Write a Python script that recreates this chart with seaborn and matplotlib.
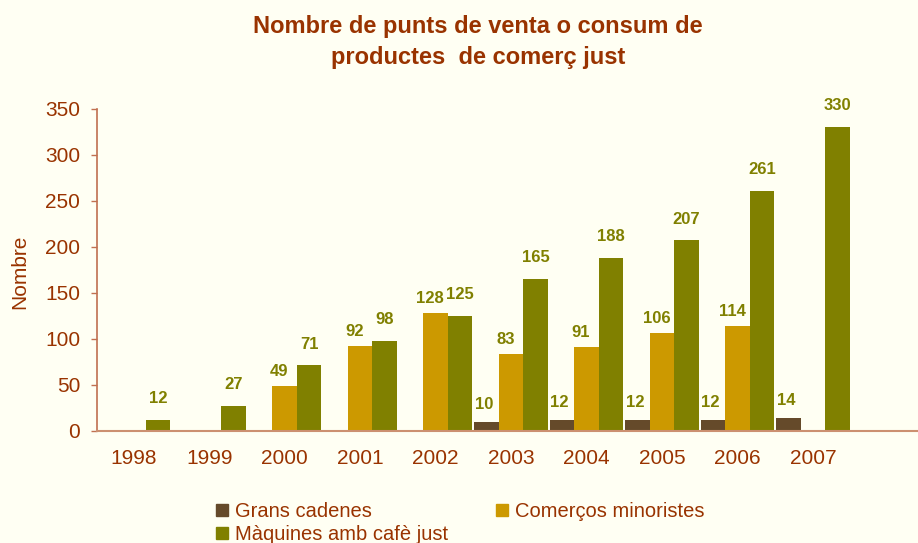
import matplotlib.pyplot as plt
import matplotlib.patches as mpatches
import seaborn as sns
import pandas as pd
import numpy as np

years = ['1998', '1999', '2000', '2001', '2002', '2003', '2004', '2005', '2006', '2007']
grans_cadenes = [np.nan, np.nan, np.nan, np.nan, np.nan, 10, 12, 12, 12, 14]
comercos_minoristes = [np.nan, np.nan, 49, 92, 128, 83, 91, 106, 114, np.nan]
maquines_cafe = [12, 27, 71, 98, 125, 165, 188, 207, 261, 330]
series = ['Grans cadenes', 'Comerços minoristes', 'Màquines amb cafè just']

colors = ['#654A2A', '#CC9900', '#808000']
bg = '#FFFFF3'
txt = '#993300'

df = pd.DataFrame({
    'any': years * 3,
    'serie': np.repeat(series, len(years)),
    'valor': grans_cadenes + comercos_minoristes + maquines_cafe,
}).dropna()

sns.set_style('white')
plt.rcParams['font.family'] = ['Liberation Sans', 'DejaVu Sans']

fig = plt.figure(figsize=(9.18, 5.43), dpi=100)
fig.patch.set_facecolor(bg)
ax = fig.add_axes([0.1053, 0.2068, 0.8947, 0.5925])
ax.set_facecolor(bg)

sns.barplot(data=df, x='any', y='valor', hue='serie', order=years, hue_order=series,
            palette=colors, width=0.97, saturation=1, errorbar=None, legend=False,
            linewidth=0, edgecolor='none', ax=ax)

# etiquetes de valor (les de comerços una mica a l'esquerra, com a l'original)
for cont, pad, dx in zip(ax.containers, [7, 5, 10], [-2, -4, 0]):
    anns = ax.bar_label(cont, fmt='%d', padding=pad, color='#808000', fontsize=12, fontweight='bold')
    for a in anns:
        a.xyann = (dx, pad)

ax.set_ylim(0, 350)
ax.set_yticks(range(0, 351, 50))
ax.set_xlim(-0.49, 10.39)
ax.set_xlabel('')
ax.set_ylabel('')

for s in ['top', 'right']:
    ax.spines[s].set_visible(False)
ax.spines['left'].set_color('#C07050')
ax.spines['bottom'].set_color('#CC9070')
ax.spines['left'].set_linewidth(1.2)
ax.spines['bottom'].set_linewidth(1.5)
ax.tick_params(axis='y', length=4.3, width=1, color='#C07050', labelcolor=txt, labelsize=15, pad=7.5, left=True)
ax.tick_params(axis='x', length=0, labelcolor=txt, labelsize=15, pad=13)

fig.text(20 / 918, 1 - 272 / 543, 'Nombre', rotation=90, ha='center', va='center', color=txt, fontsize=15)

fig.text(478 / 918, 1 - 15 / 543, 'Nombre de punts de venta o consum de\nproductes  de comerç just',
         ha='center', va='top', color=txt, fontsize=17, fontweight='bold', linespacing=1.45)

# llegenda: fila 1 Grans / Comerços, fila 2 Màquines
handles = [mpatches.Patch(color=colors[0]), mpatches.Patch(color=colors[2]), mpatches.Patch(color=colors[1])]
labels = [series[0], series[2], series[1]]
leg = fig.legend(handles, labels, loc='upper left', bbox_to_anchor=(216 / 918, 1 - 502 / 543), ncol=2,
                 frameon=False, fontsize=14.5, handlelength=0.6, handleheight=0.6, handletextpad=0.35,
                 labelspacing=0.2, columnspacing=2.35, borderpad=0, borderaxespad=0)
for t in leg.get_texts():
    t.set_color(txt)

fig.savefig('out.png', dpi=100, facecolor=bg)
